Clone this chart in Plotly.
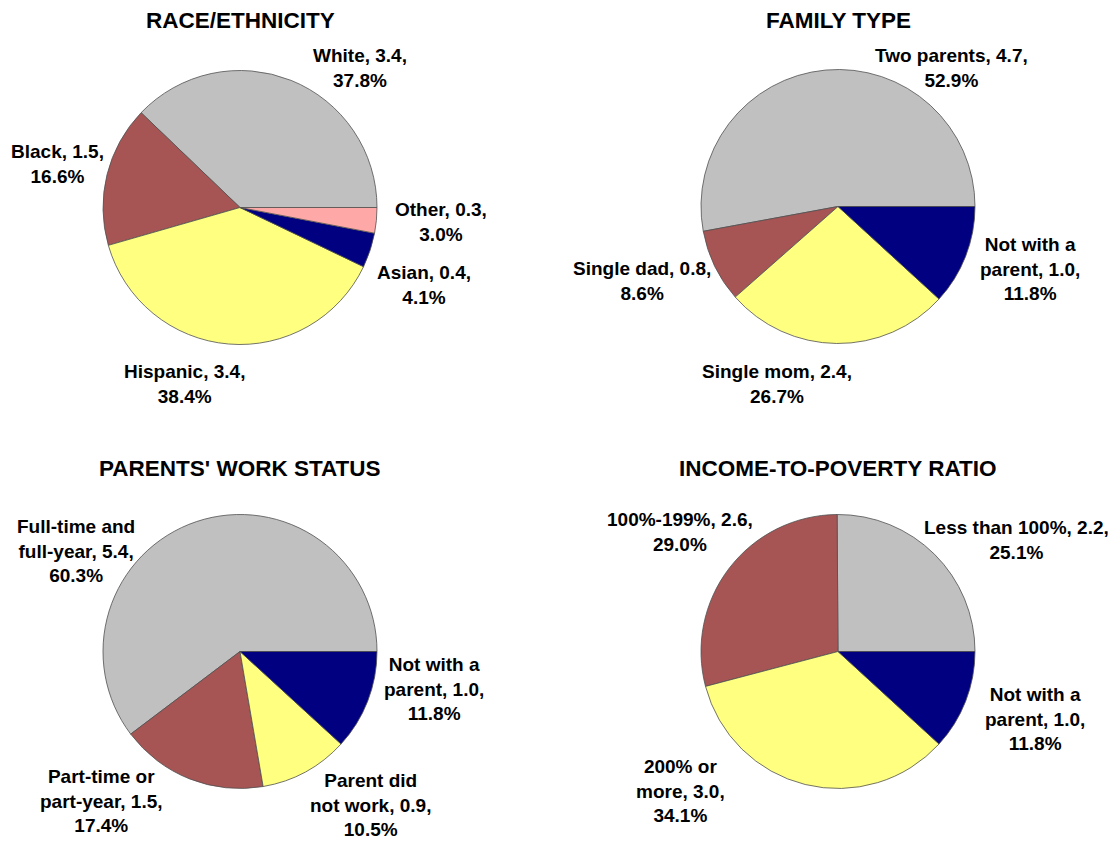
import plotly.graph_objects as go

# Browser page has an 8px body margin; the figure fills the visible area after it.
W, H = 1116, 842
OFF = 8
FW, FH = W - OFF, H - OFF

# ---------------- data ----------------
race_labels = ["White", "Black", "Hispanic", "Asian", "Other"]
race_values = [3.4, 1.5, 3.4, 0.4, 0.3]
race_pcts = [37.8, 16.6, 38.4, 4.1, 3.0]

family_labels = ["Two parents", "Single dad", "Single mom", "Not with a parent"]
family_values = [4.7, 0.8, 2.4, 1.0]
family_pcts = [52.9, 8.6, 26.7, 11.8]

work_labels = ["Full-time and full-year", "Part-time or part-year",
               "Parent did not work", "Not with a parent"]
work_values = [5.4, 1.5, 0.9, 1.0]
work_pcts = [60.3, 17.4, 10.5, 11.8]

income_labels = ["Less than 100%", "100%-199%", "200% or more", "Not with a parent"]
income_values = [2.2, 2.6, 3.0, 1.0]
income_pcts = [25.1, 29.0, 34.1, 11.8]

titles = ["RACE/ETHNICITY", "FAMILY TYPE", "PARENTS' WORK STATUS", "INCOME-TO-POVERTY RATIO"]

# ---------------- style ----------------
GRAY = "#C0C0C0"
RED = "#A65454"
YELLOW = "#FFFF80"
NAVY = "#000080"
PINK = "#FFA8A8"

race_colors = [GRAY, RED, YELLOW, NAVY, PINK]
four_colors = [GRAY, RED, YELLOW, NAVY]

FONT = "Liberation Sans, Arial, sans-serif"


def px_x(x):
    return (x - OFF) / FW


def px_y(y):
    return 1 - (y - OFF) / FH


def domain_for(cx, cy, r):
    return dict(x=[px_x(cx - r), px_x(cx + r)],
                y=[px_y(cy + r), px_y(cy - r)])


R = 137
pies = [
    (race_labels, race_pcts, race_colors, (240, 207.5)),
    (family_labels, family_pcts, four_colors, (838, 206.5)),
    (work_labels, work_pcts, four_colors, (240, 651.5)),
    (income_labels, income_pcts, four_colors, (838, 651.5)),
]

fig = go.Figure()
for labels, pcts, colors, (cx, cy) in pies:
    # plotly (counterclockwise) places the first slice clockwise of `rotation`;
    # shift so the first slice starts at 3 o'clock and runs counterclockwise.
    rot = 90 - 360.0 * pcts[0] / sum(pcts)
    fig.add_trace(go.Pie(
        labels=labels, values=pcts, sort=False,
        direction="counterclockwise", rotation=rot,
        marker=dict(colors=colors, line=dict(color="#505050", width=0.8)),
        textinfo="none", hoverinfo="label+percent",
        domain=domain_for(cx, cy, R), showlegend=False,
    ))

# titles
title_pos = [(240, 20), (838, 20), (240, 468), (838, 468)]
annotations = []
for t, (x, y) in zip(titles, title_pos):
    annotations.append(dict(text=f"<b>{t}</b>", x=px_x(x), y=px_y(y),
                            xref="paper", yref="paper", showarrow=False,
                            xanchor="center", yanchor="middle",
                            font=dict(family=FONT, size=22.5, color="black")))


def lab(tmpl, val, pct):
    return tmpl.format(v=f"{val:.1f}", p=f"{pct:.1f}%")


label_specs = [
    ("White, {v},<br>{p}", race_values[0], race_pcts[0], 360, 68),
    ("Black, {v},<br>{p}", race_values[1], race_pcts[1], 57, 164),
    ("Hispanic, {v},<br>{p}", race_values[2], race_pcts[2], 184, 384),
    ("Asian, {v},<br>{p}", race_values[3], race_pcts[3], 424, 285),
    ("Other, {v},<br>{p}", race_values[4], race_pcts[4], 441, 222),
    ("Two parents, {v},<br>{p}", family_values[0], family_pcts[0], 951, 68),
    ("Single dad, {v},<br>{p}", family_values[1], family_pcts[1], 642, 281),
    ("Single mom, {v},<br>{p}", family_values[2], family_pcts[2], 777, 384),
    ("Not with a<br>parent, {v},<br>{p}", family_values[3], family_pcts[3], 1030, 269),
    ("Full-time and<br>full-year, {v},<br>{p}", work_values[0], work_pcts[0], 76, 551),
    ("Part-time or<br>part-year, {v},<br>{p}", work_values[1], work_pcts[1], 101, 801),
    ("Parent did<br>not work, {v},<br>{p}", work_values[2], work_pcts[2], 370, 805),
    ("Not with a<br>parent, {v},<br>{p}", work_values[3], work_pcts[3], 434, 689),
    ("Less than 100%, {v},<br>{p}", income_values[0], income_pcts[0], 1016, 540),
    ("100%-199%, {v},<br>{p}", income_values[1], income_pcts[1], 680, 532),
    ("200% or<br>more, {v},<br>{p}", income_values[2], income_pcts[2], 680, 791),
    ("Not with a<br>parent, {v},<br>{p}", income_values[3], income_pcts[3], 1035, 719),
]

for tmpl, v, p, x, y in label_specs:
    annotations.append(dict(text="<b>" + lab(tmpl, v, p) + "</b>",
                            x=px_x(x), y=px_y(y),
                            xref="paper", yref="paper", showarrow=False,
                            xanchor="center", yanchor="middle", align="center",
                            font=dict(family=FONT, size=19, color="black")))

fig.update_layout(
    width=FW, height=FH,
    margin=dict(l=0, r=0, t=0, b=0),
    paper_bgcolor="white", plot_bgcolor="white",
    annotations=annotations,
)

fig.write_html("out.html")
